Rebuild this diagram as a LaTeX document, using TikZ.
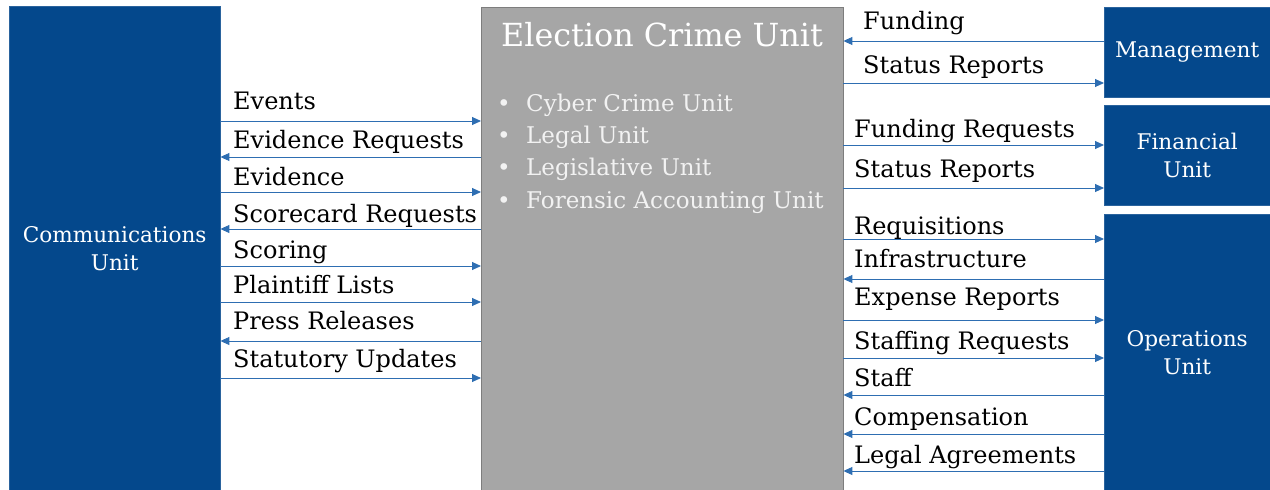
\documentclass[tikz,border=0pt]{standalone}
\usepackage{fontspec}
\setmainfont{DejaVu Serif}
\usepackage{tikz}
\usetikzlibrary{shapes,arrows.meta,positioning}
\definecolor{unitblue}{RGB}{4,72,140}
\definecolor{ecugray}{RGB}{166,166,166}
\definecolor{flowblue}{RGB}{46,110,178}
\tikzstyle{line} = [draw=flowblue, line width=0.9pt, >={Triangle[length=9pt,width=8pt]}]

\begin{document}
\begin{tikzpicture}[x=1pt,y=-1pt]
\tikzstyle{unit} = [draw=unitblue!85!white, fill=unitblue, text=white, align=center,
  anchor=north west, inner sep=0pt, font=\fontsize{21.6}{28}\selectfont]
\tikzstyle{ann} = [anchor=base west, inner sep=0pt, font=\fontsize{24}{28}\selectfont]
\tikzstyle{bul} = [anchor=base west, inner sep=0pt, text=white!95!black,
  font=\fontsize{23}{28}\selectfont]
\useasboundingbox (0,0) rectangle (1270,490);
% units round the crime unit
\node[unit, minimum width=211pt, minimum height=484pt] (comm) at (9,6) {Communications\\Unit};
\node[unit, minimum width=166pt, minimum height=90pt] (mgmt) at (1104,7) {Management};
\node[unit, minimum width=166pt, minimum height=100pt] (fin) at (1104,105) {Financial\\Unit};
\node[unit, minimum width=166pt, minimum height=276pt] (ops) at (1104,214) {Operations\\Unit};
\node[draw=ecugray!75!black, fill=ecugray, anchor=north west, inner sep=0pt,
  minimum width=362pt, minimum height=483pt] (ecu) at (481,7) {};
\node[text=white, inner sep=0pt, font=\fontsize{31.8}{34}\selectfont] (title) at (662,35)
  {Election Crime Unit};
\foreach \t [count=\i] in {Cyber Crime Unit, Legal Unit, Legislative Unit,
    Forensic Accounting Unit}
  \node[bul] (b\i) at (497,79+32.3*\i) {\makebox[29pt][l]{•}\t};
% communications flows
\foreach \yb/\yl/\t/\tip [count=\i] in {109/121/Events/->, 148/157/Evidence Requests/<-,
    185/192/Evidence/->, 222/229/Scorecard Requests/<-, 258/266/Scoring/->,
    293/302/Plaintiff Lists/->, 329/341/Press Releases/<-, 367/378/Statutory Updates/->} {
  \node[ann] (c\i) at (233,\yb) {\t};
  \coordinate (cl\i) at (0,\yl);
  \path [line,\tip] (comm.east |- cl\i) -- (ecu.west |- cl\i);
}
% management flows
\foreach \yb/\yl/\t/\tip [count=\i] in {29/41/Funding/<-, 73/83/Status Reports/->} {
  \node[ann] (m\i) at (863,\yb) {\t};
  \coordinate (ml\i) at (0,\yl);
  \path [line,\tip] (ecu.east |- ml\i) -- (mgmt.west |- ml\i);
}
% financial flows
\foreach \yb/\yl/\t/\tip [count=\i] in {137/145/Funding Requests/->, 177/188/Status Reports/->} {
  \node[ann] (f\i) at (854,\yb) {\t};
  \coordinate (fl\i) at (0,\yl);
  \path [line,\tip] (ecu.east |- fl\i) -- (fin.west |- fl\i);
}
% operations flows
\foreach \yb/\yl/\t/\tip [count=\i] in {234/239/Requisitions/->, 267/279/Infrastructure/<-,
    305/320/Expense Reports/->, 349/358/Staffing Requests/->, 386/395/Staff/<-,
    425/434/Compensation/<-, 463/471/Legal Agreements/<-} {
  \node[ann] (o\i) at (854,\yb) {\t};
  \coordinate (ol\i) at (0,\yl);
  \path [line,\tip] (ecu.east |- ol\i) -- (ops.west |- ol\i);
}
\end{tikzpicture}
\end{document}
